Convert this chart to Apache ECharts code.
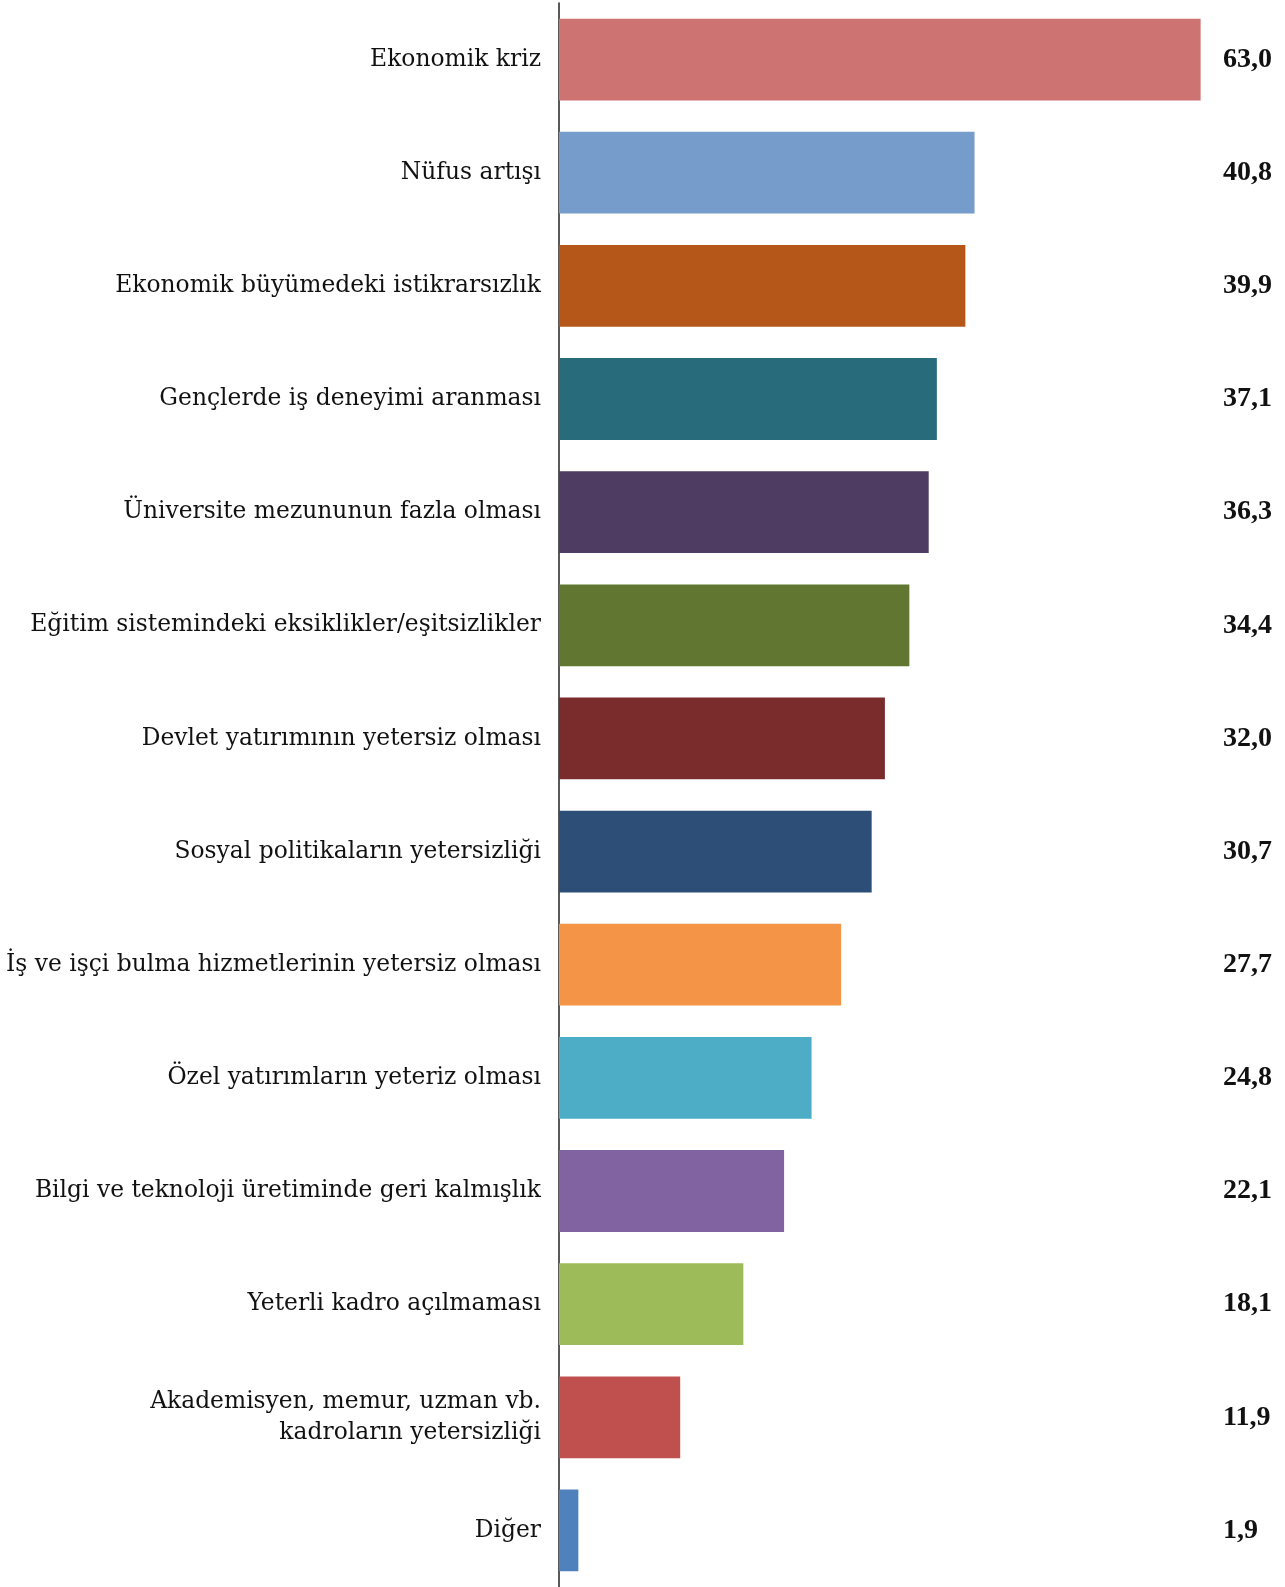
<!DOCTYPE html>
<html>
<head>
<meta charset="utf-8">
<script src="https://cdn.jsdelivr.net/npm/echarts@6/dist/echarts.min.js"></script>
<style>
html,body{margin:0;padding:0;background:#fff;}
#chart{width:1285px;height:1587px;}
</style>
</head>
<body>
<div id="chart"></div>
<script>
const categories = [
  "Ekonomik kriz",
  "Nüfus artışı",
  "Ekonomik büyümedeki istikrarsızlık",
  "Gençlerde iş deneyimi aranması",
  "Üniversite mezununun fazla olması",
  "Eğitim sistemindeki eksiklikler/eşitsizlikler",
  "Devlet yatırımının yetersiz olması",
  "Sosyal politikaların yetersizliği",
  "İş ve işçi bulma hizmetlerinin yetersiz olması",
  "Özel yatırımların yeteriz olması",
  "Bilgi ve teknoloji üretiminde geri kalmışlık",
  "Yeterli kadro açılmaması",
  "Akademisyen, memur, uzman vb.\nkadroların yetersizliği",
  "Diğer"
];
const values = [63.0, 40.8, 39.9, 37.1, 36.3, 34.4, 32.0, 30.7, 27.7, 24.8, 22.1, 18.1, 11.9, 1.9];
const colors = ["#CD7371","#769CCB","#B45718","#286C7C","#4F3C62","#617631","#7A2C2C","#2D4E76","#F39446","#4DACC6","#8263A2","#9EBB5A","#C0504D","#4F81BD"];

const fmt = v => v.toFixed(1).replace('.', ',');
const chart = echarts.init(document.getElementById('chart'), null, {renderer: 'canvas'});
chart.setOption({
  animation: false,
  backgroundColor: '#fff',
  grid: {left: 559, width: 662, top: 3, height: 1589, containLabel: false},
  xAxis: {type: 'value', min: 0, max: 65, show: false},
  yAxis: [
    {
      type: 'category', inverse: true, data: categories,
      axisLine: {show: true, lineStyle: {color: '#222', width: 1.5}},
      axisTick: {show: false},
      axisLabel: {margin: 18, fontFamily: 'DejaVu Serif', fontSize: 23.4, color: '#111', lineHeight: 31, align: 'right', padding: [4, 0, 0, 0]}
    },
    {
      type: 'category', inverse: true, data: values.map(fmt), position: 'right',
      axisLine: {show: false}, axisTick: {show: false},
      axisLabel: {margin: 2, fontFamily: 'Liberation Serif', fontWeight: 'bold', fontSize: 28, color: '#111', align: 'left', padding: [4, 0, 0, 0]}
    }
  ],
  series: [{
    type: 'bar', yAxisIndex: 0, barCategoryGap: '27.7%',
    data: values.map((v, i) => ({value: v, itemStyle: {color: colors[i]}}))
  }]
});
</script>
</body>
</html>
